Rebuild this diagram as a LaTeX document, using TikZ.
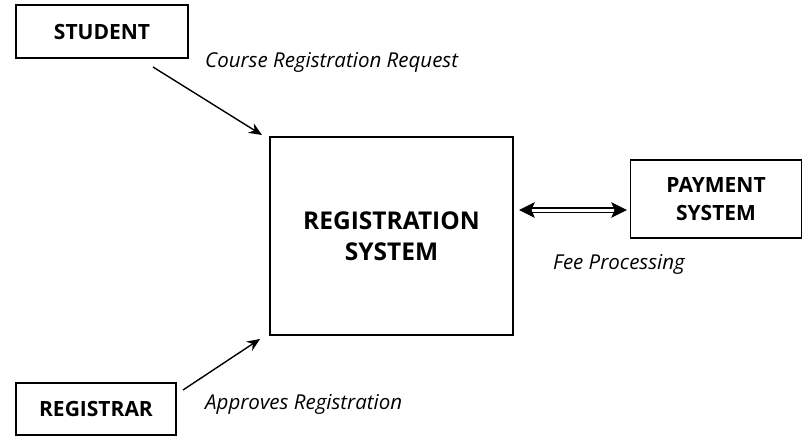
\documentclass[tikz,border=0pt]{standalone}
\usepackage{fontspec}
\setmainfont{Open Sans}
\usetikzlibrary{arrows.meta}
\begin{document}
\begin{tikzpicture}[x=1pt,y=-1pt,
  entity/.style={draw, line width=1.6pt, inner sep=0pt, align=center, font=\bfseries\fontsize{21}{28}\selectfont},
  lbl/.style={inner sep=0pt, anchor=west, font=\itshape\fontsize{20.5}{24}\selectfont},
  flow/.style={line width=1.4pt, -{Stealth[length=13pt,width=11pt]}},
  tip/.style={fill=black, draw=black, line width=0.8pt, line join=miter}]
\useasboundingbox (0,0) rectangle (803,437);
\node[entity, minimum width=172pt, minimum height=53pt] (student) at (102,31.5) {STUDENT};
\node[entity, minimum width=243pt, minimum height=198pt, font=\bfseries\fontsize{24.5}{31}\selectfont] (regsys) at (391.5,236) {REGISTRATION\\SYSTEM};
\node[entity, minimum width=171pt, minimum height=78pt] (payment) at (716,199) {PAYMENT\\SYSTEM};
\node[entity, minimum width=160pt, minimum height=52pt] (registrar) at (96,409) {REGISTRAR};
\coordinate (s0) at (153,67);
\coordinate (s1) at (262,135);
\coordinate (r0) at (183,390);
\coordinate (r1) at (260,339);
\coordinate (p0) at (520,210);
\coordinate (p1) at (626,210);
\draw[flow] (s0) -- (s1);
\draw[flow] (r0) -- (r1);
\draw[line width=1.5pt, double, double distance=3pt, shorten <=9pt, shorten >=9pt] (p0) -- (p1);
\draw[tip] (p0) -- ++(14,-7) -- ++(-3,7) -- ++(3,7) -- cycle;
\draw[tip] (p1) -- ++(-14,-7) -- ++(3,7) -- ++(-3,7) -- cycle;
\node[lbl] (l1) at (205,62) {Course Registration Request};
\node[lbl] (l2) at (553,264) {Fee Processing};
\node[lbl] (l3) at (205,404) {Approves Registration};
\end{tikzpicture}
\end{document}
